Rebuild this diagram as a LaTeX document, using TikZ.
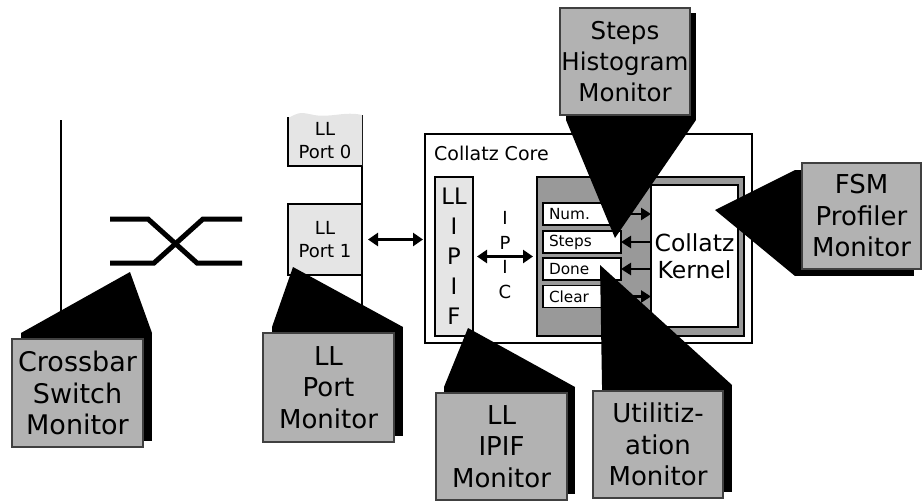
\documentclass[tikz,border=0pt]{standalone}
\usepackage{fontspec}
\setmainfont{DejaVu Sans}
\usetikzlibrary{arrows.meta}
\pgfdeclarelayer{front}
\pgfsetlayers{main,front}

\begin{document}
\begin{tikzpicture}[x=1pt,y=-1pt]
    \tikzset{box/.style={draw,line width=1.3pt,inner sep=0pt,outer sep=0pt,align=center},
        lightbox/.style={box,fill=black!10},
        monitor/.style={draw=black!75,line width=1.2pt,fill=black!30,inner sep=0pt,outer sep=0pt,
            align=center,font=\fontsize{26}{31.5}\selectfont},
        shade/.style={fill=black},
        reg/.style={box,line width=1.6pt,fill=white,minimum height=22pt,text width=66pt,inner xsep=6pt,
            align=left,font=\fontsize{15.3}{18}\selectfont},
        bus/.style={line width=3pt,{Triangle[length=10pt,width=13pt]}-{Triangle[length=10pt,width=13pt]}},
        regarrow/.style={line width=2.6pt,>={Triangle[length=10pt,width=12pt]}},
        wire/.style={line width=2pt},
        xbarline/.style={line width=5pt,line join=miter},
        portfont/.style={font=\fontsize{18}{23}\selectfont}}
    \useasboundingbox (0,0) rectangle (922,501);

    % crossbar
    \coordinate (xbarbus) at (61,120);
    \draw[wire] (xbarbus) -- ++(0,200);
    \draw[xbarline] (110,219) -- (148,219) -- (197,263) -- (242,263);
    \draw[xbarline] (110,263) -- (154,263) -- (203,219) -- (242,219);

    % ports
    \coordinate (portbus) at (362,115);
    \draw[wire] (portbus) -- ++(0,195);
    \fill[black!10] (288,118) -- (288,166) -- (362,166) -- (362,115)
        .. controls (345,111) and (330,118) .. (314,115) .. controls (300,112) .. (288,118);
    \draw[line width=1.6pt] (288,117) -- (288,166) -- (362,166);
    \node[portfont,align=center,inner sep=0pt] (port0) at (325,141) {LL\\Port 0};
    \node[lightbox,line width=1.6pt,minimum width=74pt,minimum height=71pt,portfont] (port1) at (325,239.5) {LL\\Port 1};

    % core
    \node[box,minimum width=327pt,minimum height=209pt] (core) at (588.5,238.5) {};
    \node[anchor=west,inner sep=0pt,font=\fontsize{19}{23}\selectfont] (corename) at (434,153) {Collatz Core};
    \node[lightbox,minimum width=38pt,minimum height=159pt,font=\fontsize{22.7}{30}\selectfont] (ipif) at (454,256.5) {LL\\I\\P\\I\\F};
    \node[box,fill=black!40,minimum width=207pt,minimum height=159pt] (regs) at (640.5,256.5) {};
    \node[box,fill=white,minimum width=87pt,minimum height=142pt,font=\fontsize{23.5}{27}\selectfont] (kernel) at (694.5,256) {Collatz\\Kernel};
    \node[reg] (num) at (582,214) {Num.};
    \node[reg] (steps) at (582,242) {Steps};
    \node[reg] (done) at (582,269) {Done};
    \node[reg] (clear) at (582,296.5) {Clear};
    \node[inner sep=0pt,align=center,font=\fontsize{18}{24.7}\selectfont] (ipic) at (505,255) {I\\P\\I\\C};

    \draw[regarrow,->] (num.east) -- (num.east -| kernel.west);
    \draw[regarrow,<-] (steps.east) -- (steps.east -| kernel.west);
    \draw[regarrow,<-] (done.east) -- (done.east -| kernel.west);
    \draw[regarrow,->] (clear.east) -- (clear.east -| kernel.west);
    \draw[bus,shorten <=6pt,shorten >=12pt] (port1.east) -- (port1.east -| ipif.west);
    \draw[bus,shorten <=4pt,shorten >=4pt] (ipif.east) -- (ipif.east -| regs.west);

    % monitors
    \begin{pgfonlayer}{front}
        \node[monitor,minimum width=131pt,minimum height=108pt,font=\fontsize{27}{31.5}\selectfont] (xbarmon) at (77.5,393) {Crossbar\\Switch\\Monitor};
        \node[monitor,minimum width=131pt,minimum height=109pt] (portmon) at (328.5,387.5) {LL\\Port\\Monitor};
        \node[monitor,minimum width=131pt,minimum height=107pt] (ipifmon) at (501.5,446.5) {LL\\IPIF\\Monitor};
        \node[monitor,minimum width=130pt,minimum height=107pt] (utilmon) at (658,444.5) {Utilitiz-\\ation\\Monitor};
        \node[monitor,minimum width=130pt,minimum height=107pt,font=\fontsize{24.5}{31}\selectfont] (stepsmon) at (625,61.5) {Steps\\Histogram\\Monitor};
        \node[monitor,minimum width=119pt,minimum height=106pt] (fsmmon) at (861.5,216) {FSM\\Profiler\\Monitor};
    \end{pgfonlayer}

    \coordinate (xbartip) at (130,272);
    \coordinate (porttip) at (293,267);
    \coordinate (ipiftip) at (468,328);
    \coordinate (utiltip) at (600,265);
    \coordinate (stepstip) at (615,238);
    \coordinate (fsmtip) at (715,210);

    \fill[shade] ([shift={(9,-6)}]xbarmon.south west) rectangle ([shift={(9,-6)}]xbarmon.north east);
    \fill[shade] ([shift={(9,-6)}]xbarmon.north west) -- (xbartip) -- ([shift={(9,-6)}]xbarmon.north east) -- cycle;
    \fill[shade] ([shift={(9,-6)}]portmon.south west) rectangle ([shift={(9,-6)}]portmon.north east);
    \fill[shade] ([shift={(9,-6)}]portmon.north west) -- (porttip) -- ([shift={(9,-6)}]portmon.north east) -- cycle;
    \fill[shade] ([shift={(8,-6)}]ipifmon.south west) rectangle ([shift={(8,-6)}]ipifmon.north east);
    \fill[shade] ([shift={(8,-6)}]ipifmon.north west) -- (ipiftip) -- ([shift={(8,-6)}]ipifmon.north east) -- cycle;
    \fill[shade] ([shift={(9,-6)}]utilmon.south west) rectangle ([shift={(9,-6)}]utilmon.north east);
    \fill[shade] ([shift={(9,-6)}]utilmon.north west) -- (utiltip) -- ([shift={(9,-6)}]utilmon.north east) -- cycle;
    \fill[shade] ([shift={(6,5)}]stepsmon.south west) rectangle ([shift={(6,5)}]stepsmon.north east);
    \fill[shade] ([shift={(6,5)}]stepsmon.south west) -- (stepstip) -- ([shift={(6,5)}]stepsmon.south east) -- cycle;
    \fill[shade] ([shift={(-7,7)}]fsmmon.south west) rectangle ([shift={(-7,7)}]fsmmon.north east);
    \fill[shade] ([shift={(-7,7)}]fsmmon.north west) -- (fsmtip) -- ([shift={(-7,7)}]fsmmon.south west) -- cycle;
\end{tikzpicture}
\end{document}
